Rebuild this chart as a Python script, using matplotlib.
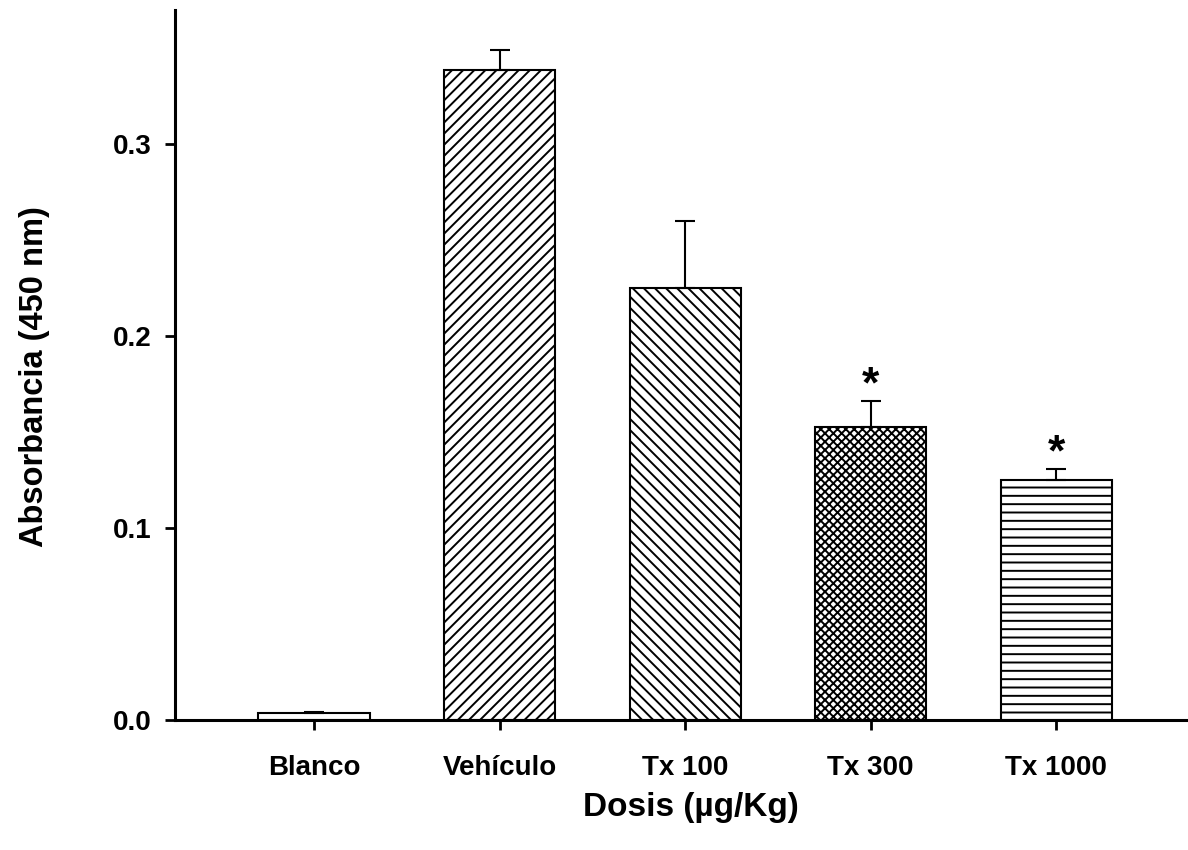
import matplotlib
matplotlib.use("Agg")
import matplotlib.pyplot as plt

categories = ["Blanco", "Vehículo", "Tx 100", "Tx 300", "Tx 1000"]
values = [0.0035, 0.339, 0.225, 0.1525, 0.125]
errors = [0.0006, 0.010, 0.035, 0.014, 0.006]
hatches = ["", "///", "\\\\\\", "xxxx", "--"]
significant = [False, False, False, True, True]
yticks = [0.0, 0.1, 0.2, 0.3]

plt.rcParams['font.family'] = ['Liberation Sans', 'DejaVu Sans']
plt.rcParams['font.weight'] = 'bold'
plt.rcParams['hatch.linewidth'] = 1.4

fig = plt.figure(figsize=(11.88, 8.5), dpi=100)
ax = fig.add_axes([0.1473, 0.153, 0.8527, 0.835])

x = list(range(len(categories)))
for i, (v, e, h) in enumerate(zip(values, errors, hatches)):
    ax.bar(i, v, width=0.6, facecolor="white", edgecolor="black",
           linewidth=1.5, hatch=h, zorder=2)
    ax.errorbar(i, v, yerr=[[0], [e]], fmt="none", ecolor="black",
                elinewidth=1.5, capsize=7, capthick=1.5, zorder=3)
    if significant[i]:
        ax.annotate("*", xy=(i, v + e), xytext=(0, 2), textcoords="offset points",
                    ha="center", va="baseline", fontsize=32, fontweight="bold")

ax.set_xlim(-0.75, 4.71)
ax.set_ylim(0, 0.37)
ax.set_xticks(x)
ax.set_xticklabels(categories, fontsize=20, fontweight="bold")
ax.set_yticks(yticks)
ax.set_yticklabels([f"{t:.1f}" for t in yticks], fontsize=20, fontweight="bold")
ax.tick_params(axis="both", direction="out", length=7, width=2)
ax.tick_params(axis="x", pad=18)
ax.tick_params(axis="y", pad=10)

for s in ["top", "right"]:
    ax.spines[s].set_visible(False)
for s in ["left", "bottom"]:
    ax.spines[s].set_linewidth(2.2)

ax.set_xlabel("Dosis (µg/Kg)", fontsize=24, fontweight="bold", labelpad=8)
ax.set_ylabel("Absorbancia (450 nm)", fontsize=23.5, fontweight="bold", labelpad=45)
ax.xaxis.label.set_x(0.509)
ax.yaxis.label.set_y(0.4845)

fig.savefig("out.png", dpi=100)
